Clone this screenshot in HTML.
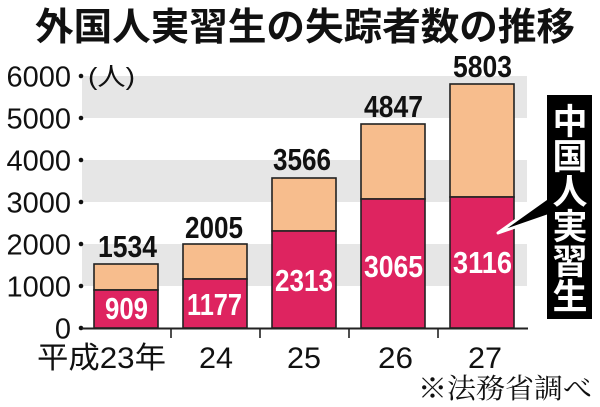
<!DOCTYPE html>
<html><head><meta charset="utf-8"><style>
html,body{margin:0;padding:0;background:#fff;}
svg{display:block;}
text{font-family:"Liberation Sans","Noto Sans CJK JP",sans-serif;}
</style></head><body>
<svg width="600" height="407" viewBox="0 0 600 407" xmlns="http://www.w3.org/2000/svg">
<rect width="600" height="407" fill="#fff"/>
<!-- title -->
<text x="35" y="40" font-size="38" font-weight="bold" fill="#111" textLength="540" lengthAdjust="spacingAndGlyphs">外国人実習生の失踪者数の推移</text>
<!-- bands -->
<rect x="82" y="76" width="445" height="42" fill="#e6e6e6"/>
<rect x="82" y="160" width="445" height="42" fill="#e6e6e6"/>
<rect x="82" y="244" width="445" height="42" fill="#e6e6e6"/>
<!-- y labels -->
<g font-size="29" fill="#111" text-anchor="end">
<text x="71" y="86.5">6000</text>
<text x="71" y="128.5">5000</text>
<text x="71" y="170.5">4000</text>
<text x="71" y="212.5">3000</text>
<text x="71" y="254.5">2000</text>
<text x="71" y="296.5">1000</text>
<text x="71" y="338.5">0</text>
</g>
<g fill="#111">
<circle cx="81" cy="76" r="2.3"/><circle cx="81" cy="118" r="2.3"/><circle cx="81" cy="160" r="2.3"/>
<circle cx="81" cy="202" r="2.3"/><circle cx="81" cy="244" r="2.3"/><circle cx="81" cy="286" r="2.3"/><circle cx="81" cy="328" r="2.3"/>
</g>
<text x="88" y="85" font-size="25" fill="#111" textLength="47" lengthAdjust="spacingAndGlyphs">(人)</text>
<!-- bars -->
<g stroke="#222" stroke-width="1.6">
<rect x="94" y="264" width="64" height="26" fill="#f7bd8d"/>
<rect x="94" y="290" width="64" height="38" fill="#de2460"/>
<rect x="183" y="244" width="64" height="35" fill="#f7bd8d"/>
<rect x="183" y="279" width="64" height="49" fill="#de2460"/>
<rect x="272" y="178" width="64" height="53" fill="#f7bd8d"/>
<rect x="272" y="231" width="64" height="97" fill="#de2460"/>
<rect x="361" y="124" width="64" height="75" fill="#f7bd8d"/>
<rect x="361" y="199" width="64" height="129" fill="#de2460"/>
<rect x="450" y="84" width="64" height="113" fill="#f7bd8d"/>
<rect x="450" y="197" width="64" height="131" fill="#de2460"/>
</g>
<!-- axis -->
<line x1="82" y1="328.5" x2="528" y2="328.5" stroke="#222" stroke-width="2"/>
<g stroke="#222" stroke-width="1.6">
<line x1="171" y1="328" x2="171" y2="338"/><line x1="260" y1="328" x2="260" y2="338"/>
<line x1="349" y1="328" x2="349" y2="338"/><line x1="438" y1="328" x2="438" y2="338"/>
</g>
<!-- totals -->
<g font-size="31" font-weight="bold" fill="#111" lengthAdjust="spacingAndGlyphs">
<text x="98" y="257" textLength="59" lengthAdjust="spacingAndGlyphs">1534</text>
<text x="185" y="238" textLength="58" lengthAdjust="spacingAndGlyphs">2005</text>
<text x="273" y="170" textLength="58" lengthAdjust="spacingAndGlyphs">3566</text>
<text x="364" y="117" textLength="59" lengthAdjust="spacingAndGlyphs">4847</text>
<text x="453" y="77" textLength="59" lengthAdjust="spacingAndGlyphs">5803</text>
</g>
<g font-size="31" font-weight="bold" fill="#fff">
<text x="105" y="319" textLength="43" lengthAdjust="spacingAndGlyphs">909</text>
<text x="187" y="315" textLength="55" lengthAdjust="spacingAndGlyphs">1177</text>
<text x="275" y="291" textLength="58" lengthAdjust="spacingAndGlyphs">2313</text>
<text x="364" y="277" textLength="59" lengthAdjust="spacingAndGlyphs">3065</text>
<text x="453" y="273" textLength="59" lengthAdjust="spacingAndGlyphs">3116</text>
</g>
<!-- x labels -->
<g font-size="30" fill="#111">
<text x="37" y="368" textLength="129" lengthAdjust="spacingAndGlyphs">平成23年</text>
<text x="199" y="368" textLength="34" lengthAdjust="spacingAndGlyphs">24</text>
<text x="287" y="368" textLength="34" lengthAdjust="spacingAndGlyphs">25</text>
<text x="378" y="368" textLength="35" lengthAdjust="spacingAndGlyphs">26</text>
<text x="468" y="368" textLength="34" lengthAdjust="spacingAndGlyphs">27</text>
</g>
<!-- callout -->
<polygon points="550,196 550,215 498,233" fill="#000" stroke="#fff" stroke-width="3" stroke-linejoin="round"/>
<rect x="547" y="95" width="45" height="224" fill="#000"/>
<g font-size="35" font-weight="bold" fill="#fff" text-anchor="middle">
<text x="570" y="134">中</text>
<text x="570" y="169">国</text>
<text x="570" y="204">人</text>
<text x="570" y="239">実</text>
<text x="570" y="274">習</text>
<text x="570" y="309">生</text>
</g>
<!-- source -->
<text x="418" y="398" font-size="28" fill="#111" textLength="174" lengthAdjust="spacingAndGlyphs" style="font-family:'Liberation Serif','Noto Serif CJK SC',serif">※法務省調べ</text>
</svg>
</body></html>
